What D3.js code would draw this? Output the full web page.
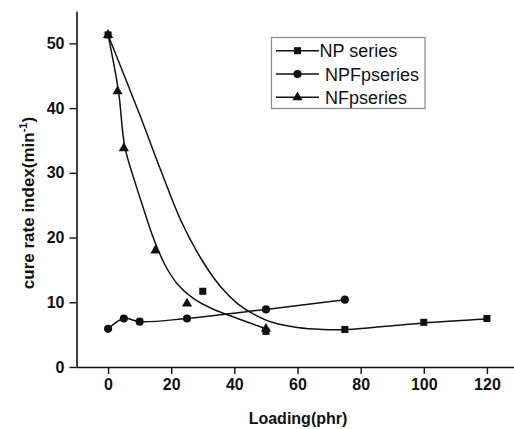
<!DOCTYPE html>
<html>
<head>
<meta charset="utf-8">
<script src="https://d3js.org/d3.v7.min.js"></script>
<style>
  body { margin: 0; background: #fff; }
  svg { display: block; font-family: "Liberation Sans", Arial, sans-serif; }
</style>
</head>
<body>
<script>
// measured points
var npX = [0, 30, 50, 75, 100, 120];
var npY = [51.3, 11.7, 5.5, 5.8, 6.9, 7.5];
var npfpX = [0, 5, 10, 25, 50, 75];
var npfpY = [5.9, 7.5, 7.0, 7.5, 8.9, 10.4];
var nfpX = [0, 3, 5, 15, 25, 50];
var nfpY = [51.3, 42.6, 33.8, 18.0, 9.8, 5.9];

// fitted curves
var npFitX = [0, 10, 17, 23, 30, 36, 41, 46, 52, 60, 68, 76, 88, 100, 120];
var npFitY = [51.3, 39.0, 30.0, 22.7, 16.3, 12.2, 9.8, 8.2, 6.9, 6.1, 5.8, 5.8, 6.3, 6.8, 7.4];
var nfpFitX = [0, 3.3, 5.3, 8.5, 11, 14, 18, 22, 27, 33, 41, 50];
var nfpFitY = [51.3, 42.6, 34.0, 28.6, 24.8, 20.4, 15.8, 12.8, 10.6, 9.0, 7.5, 5.9];

var xTicks = [0, 20, 40, 60, 80, 100, 120];
var yTicks = [0, 10, 20, 30, 40, 50];
var legendNames = ["NP series", "NPFpseries", "NFpseries"];

var width = 514, height = 429;

var svg = d3.select("body").append("svg")
    .attr("width", width)
    .attr("height", height);

var x = d3.scaleLinear().domain([-10, 130]).range([76.5, 518.5]);
var y = d3.scaleLinear().domain([0, 55]).range([367, 11]);

function zip(xs, ys) { return xs.map(function (d, i) { return [d, ys[i]]; }); }

// axes
var xAxis = d3.axisBottom(x).tickValues(xTicks).tickSize(7).tickSizeOuter(0).tickPadding(5);
var yAxis = d3.axisLeft(y).tickValues(yTicks).tickSize(7).tickSizeOuter(0).tickPadding(5);

var gx = svg.append("g").attr("transform", "translate(0," + y(0) + ")").call(xAxis);
var gy = svg.append("g").attr("transform", "translate(" + x(-10) + ",0)").call(yAxis);

[gx, gy].forEach(function (g) {
    g.select(".domain").attr("stroke", "#111").attr("stroke-width", 1.6);
    g.selectAll(".tick line").attr("stroke", "#111").attr("stroke-width", 1.4);
    g.selectAll(".tick text")
        .attr("fill", "#111")
        .style("font-size", "16px")
        .style("font-weight", "bold")
        .style("font-family", "'Liberation Sans', Arial, sans-serif");
});

// axis titles
svg.append("text")
    .attr("x", 298)
    .attr("y", 424)
    .attr("text-anchor", "middle")
    .style("font-size", "16px")
    .style("font-weight", "bold")
    .attr("fill", "#111")
    .text("Loading(phr)");

var yt = svg.append("text")
    .attr("transform", "translate(34,203) rotate(-90)")
    .attr("text-anchor", "middle")
    .style("font-size", "17px")
    .style("font-weight", "bold")
    .attr("fill", "#111");
yt.append("tspan").text("cure rate index(min");
yt.append("tspan").attr("dy", -7).style("font-size", "11px").text("-1");
yt.append("tspan").attr("dy", 7).text(")");

// lines
var smoothLine = d3.line()
    .x(function (d) { return x(d[0]); })
    .y(function (d) { return y(d[1]); })
    .curve(d3.curveCatmullRom.alpha(0.5));

svg.append("path").datum(zip(npFitX, npFitY))
    .attr("d", smoothLine).attr("fill", "none").attr("stroke", "#111").attr("stroke-width", 1.5);
svg.append("path").datum(zip(nfpFitX, nfpFitY))
    .attr("d", smoothLine).attr("fill", "none").attr("stroke", "#111").attr("stroke-width", 1.5);
svg.append("path").datum(zip(npfpX, npfpY))
    .attr("d", smoothLine).attr("fill", "none").attr("stroke", "#111").attr("stroke-width", 1.5);

// markers
var sq = d3.symbol().type(d3.symbolSquare).size(50);
var ci = d3.symbol().type(d3.symbolCircle).size(52);
var tri = d3.symbol().type(d3.symbolTriangle).size(45);

function addMarkers(pts, sym) {
    svg.append("g").selectAll("path")
        .data(pts)
        .enter()
        .append("path")
        .attr("d", sym)
        .attr("fill", "#111")
        .attr("transform", function (d) { return "translate(" + x(d[0]) + "," + y(d[1]) + ")"; });
}
addMarkers(zip(npX, npY), sq);
addMarkers(zip(npfpX, npfpY), ci);
addMarkers(zip(nfpX, nfpY), tri);

// legend
var leg = svg.append("g");
leg.append("rect")
    .attr("x", 271.5).attr("y", 37.5)
    .attr("width", 153.5).attr("height", 71)
    .attr("fill", "#fff")
    .attr("stroke", "#888")
    .attr("stroke-width", 1.2);

var legSyms = [sq, ci, tri];
var legTextX = [319.5, 325, 325];
legendNames.forEach(function (name, i) {
    var cy = 50.7 + i * 23.3;
    leg.append("line")
        .attr("x1", 276).attr("x2", 319)
        .attr("y1", cy).attr("y2", cy)
        .attr("stroke", "#111").attr("stroke-width", 1.5);
    leg.append("path")
        .attr("d", legSyms[i])
        .attr("fill", "#111")
        .attr("transform", "translate(297.5," + cy + ")");
    leg.append("text")
        .attr("x", legTextX[i])
        .attr("y", cy + 6.5)
        .style("font-size", "18px")
        .attr("fill", "#111")
        .text(name);
});
</script>
</body>
</html>
